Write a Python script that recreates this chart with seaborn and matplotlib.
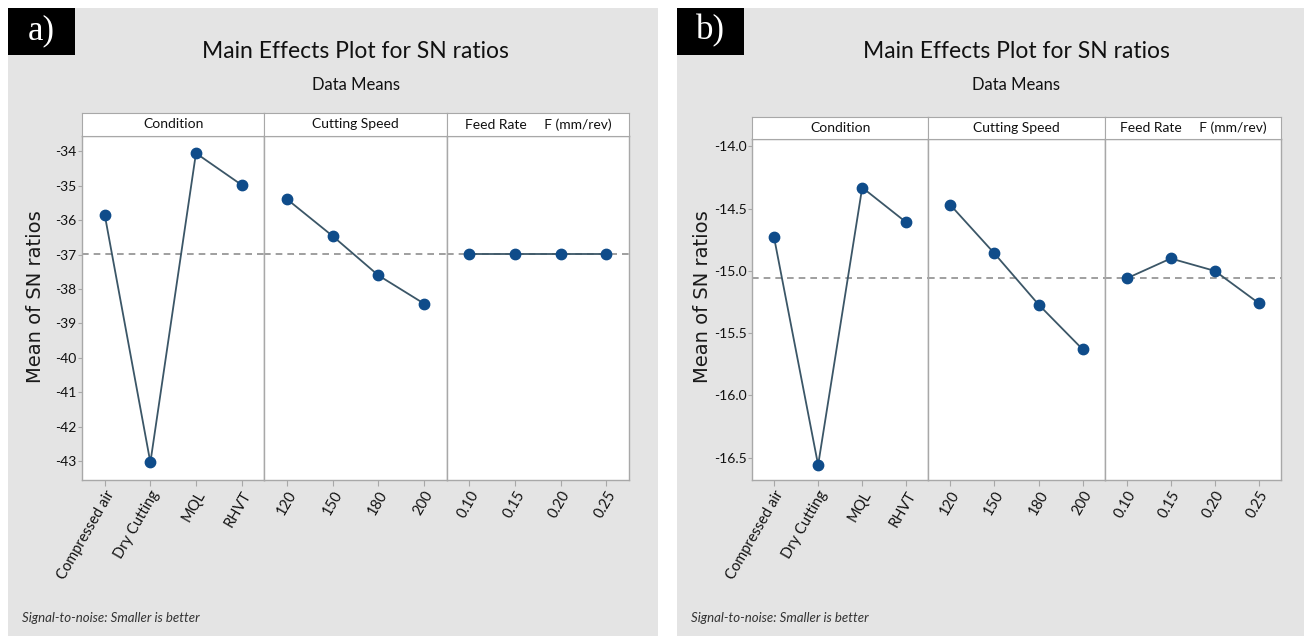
import numpy as np
import pandas as pd
import matplotlib
matplotlib.use("Agg")
import matplotlib.pyplot as plt
from matplotlib import font_manager
from matplotlib.patches import Rectangle
import seaborn as sns

# factor levels
condition_levels = ["Compressed air", "Dry Cutting", "MQL", "RHVT"]
speed_levels = ["120", "150", "180", "200"]
feed_levels = ["0.10", "0.15", "0.20", "0.25"]
facet_names = ["Condition", "Cutting Speed", "Feed Rate     F (mm/rev)"]

# SN ratio means, chart a)
sn_a_condition = [-35.85, -43.04, -34.05, -34.97]
sn_a_speed = [-35.39, -36.46, -37.60, -38.42]
sn_a_feed = [-36.98, -36.98, -36.98, -36.98]

# SN ratio means, chart b)
sn_b_condition = [-14.73, -16.56, -14.33, -14.61]
sn_b_speed = [-14.47, -14.86, -15.27, -15.63]
sn_b_feed = [-15.06, -14.90, -15.00, -15.26]

# y ticks
yticks_a = [-34, -35, -36, -37, -38, -39, -40, -41, -42, -43]
yticks_b = [-14.0, -14.5, -15.0, -15.5, -16.0, -16.5]

sns.set_style("white")
names = {f.name for f in font_manager.fontManager.ttflist}
narrow = "Liberation Sans Narrow" if "Liberation Sans Narrow" in names else "Lato"
plt.rcParams["font.family"] = [narrow, "DejaVu Sans"]

W, H = 1310, 639
fig = plt.figure(figsize=(W / 100, H / 100), dpi=100)
fig.patch.set_facecolor("white")

def fx(px):
    return px / W

def fy(py):
    return 1 - py / H

line_color = "#3b5667"
dot_color = "#0f4c8a"
edge_gray = "#a8a8a8"
txt = "#111111"

def draw_panel(tag, x0, x1, plot_l, plot_r, head_t, plot_t, data, yticks, ylim, yfmt, ylab_x):
    # gray backdrop + label box
    fig.add_artist(Rectangle((fx(x0), fy(636)), (x1 - x0) / W, 628 / H,
                             transform=fig.transFigure, facecolor="#e4e4e4",
                             edgecolor="none", zorder=-10))
    fig.add_artist(Rectangle((fx(x0), fy(55)), 67 / W, 47 / H,
                             transform=fig.transFigure, facecolor="black",
                             edgecolor="none", zorder=-5))
    fig.text(fx(x0 + 33), fy(31), tag, color="white", ha="center", va="center",
             fontsize=25, family=["Liberation Serif", "DejaVu Serif"])
    cx = (plot_l + plot_r) / 2
    fig.text(fx(cx), fy(52), "Main Effects Plot for SN ratios", ha="center",
             va="center", fontsize=16.5, color=txt)
    fig.text(fx(cx), fy(85), "Data Means", ha="center", va="center",
             fontsize=12, color=txt)
    fig.text(fx(ylab_x), fy(297), "Mean of SN ratios", rotation=90, ha="center",
             va="center", fontsize=14, color="#1a1a1a", family="DejaVu Sans")
    fig.text(fx(x0 + 14), fy(618), "Signal-to-noise: Smaller is better",
             ha="left", va="center", fontsize=9.5, style="italic", color="#333333")

    fw = (plot_r - plot_l) / 3
    overall = np.mean([v for vals in data for v in vals])
    level_sets = [condition_levels, speed_levels, feed_levels]
    first = None
    for i, (levels, vals) in enumerate(zip(level_sets, data)):
        l = plot_l + i * fw
        ax = fig.add_axes([fx(l), fy(480), fw / W, (480 - plot_t) / H],
                          sharey=first)
        if first is None:
            first = ax
        d = pd.DataFrame({"level": levels, "sn": vals})
        ax.axhline(overall, color="#8f8f8f", ls=(0, (4, 3)), lw=1.2, zorder=1)
        sns.pointplot(data=d, x="level", y="sn", ax=ax, color=line_color,
                      markers="o", markersize=7.5, linewidth=1.3, errorbar=None)
        for ln in ax.lines[1:]:
            ln.set_markerfacecolor(dot_color)
            ln.set_markeredgecolor(dot_color)
        ax.set_xlim(-0.5, 3.5)
        ax.set_ylim(*ylim)
        ax.set_xlabel("")
        ax.set_ylabel("")
        for s in ax.spines.values():
            s.set_color(edge_gray)
            s.set_linewidth(1.0)
        ax.tick_params(axis="x", length=4, color=edge_gray, labelsize=10.5,
                       labelcolor=txt, pad=2, bottom=True)
        for lab in ax.get_xticklabels():
            lab.set_rotation(60)
            lab.set_ha("right")
            lab.set_rotation_mode("anchor")
        if i == 0:
            ax.set_yticks(yticks)
            ax.set_yticklabels([yfmt.format(t) for t in yticks])
            ax.tick_params(axis="y", length=3, color=edge_gray, labelsize=10,
                           labelcolor=txt, pad=1, left=True)
        else:
            ax.tick_params(axis="y", left=False, labelleft=False)
        # facet header strip
        hx = fig.add_axes([fx(l), fy(plot_t), fw / W, (plot_t - head_t) / H])
        hx.set_xticks([])
        hx.set_yticks([])
        hx.set_facecolor("white")
        for s in hx.spines.values():
            s.set_color(edge_gray)
        hx.text(0.5, 0.5, facet_names[i], ha="center", va="center",
                fontsize=10, color=txt, transform=hx.transAxes)

draw_panel("a)", 8, 658, 82, 629, 113, 136,
           [sn_a_condition, sn_a_speed, sn_a_feed], yticks_a,
           (-43.55, -33.55), "{:.0f}", 36)
draw_panel("b)", 677, 1304, 752, 1281, 117, 139,
           [sn_b_condition, sn_b_speed, sn_b_feed], yticks_b,
           (-16.68, -13.94), "{:.1f}", 702)

fig.savefig("out.png", dpi=100)
